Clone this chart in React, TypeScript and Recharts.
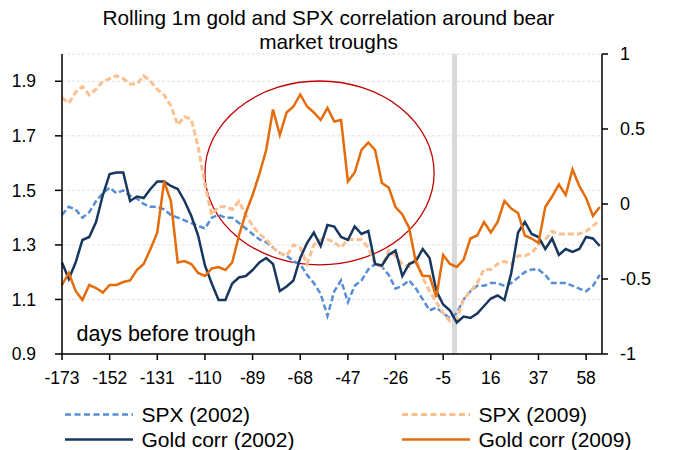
import React from 'react';
import { LineChart, Line, XAxis, YAxis, CartesianGrid, ReferenceLine, ReferenceArea } from 'recharts';

// days relative to the trough, one reading every 3 days
const DAY_START = -173;
const DAY_STEP = 3;

const SPX_2002 = [
  1.41, 1.44, 1.43, 1.40, 1.42, 1.46, 1.49, 1.51, 1.49, 1.50,
  1.48, 1.47, 1.45, 1.44, 1.44, 1.43, 1.41, 1.40, 1.39, 1.38,
  1.37, 1.36, 1.40, 1.41, 1.40, 1.40, 1.38, 1.36, 1.34, 1.32,
  1.31, 1.29, 1.27, 1.26, 1.24, 1.23, 1.19, 1.16, 1.12, 1.04,
  1.13, 1.17, 1.09, 1.15, 1.17, 1.21, 1.23, 1.22, 1.19, 1.14,
  1.15, 1.17, 1.14, 1.10, 1.06, 1.07, 1.05, 1.03, 1.05, 1.10,
  1.13, 1.15, 1.15, 1.16, 1.16, 1.15, 1.16, 1.18, 1.20, 1.21,
  1.21, 1.19, 1.16, 1.16, 1.16, 1.15, 1.14, 1.13, 1.15, 1.19,
];

const SPX_2009 = [
  1.84, 1.82, 1.86, 1.88, 1.85, 1.87, 1.90, 1.91, 1.92, 1.91,
  1.89, 1.89, 1.92, 1.90, 1.87, 1.85, 1.81, 1.74, 1.77, 1.76,
  1.66, 1.52, 1.41, 1.44, 1.44, 1.43, 1.46, 1.41, 1.37, 1.34,
  1.32, 1.29, 1.27, 1.26, 1.30, 1.29, 1.23, 1.30, 1.32, 1.32,
  1.31, 1.29, 1.32, 1.32, 1.32, 1.29, 1.23, 1.22, 1.28, 1.26,
  1.23, 1.22, 1.25, 1.18, 1.13, 1.09, 1.05, 1.02, 1.03, 1.10,
  1.13, 1.16, 1.21, 1.21, 1.23, 1.24, 1.23, 1.26, 1.26, 1.27,
  1.30, 1.32, 1.35, 1.34, 1.34, 1.34, 1.34, 1.35, 1.37, 1.39,
];

const GOLD_CORR_2002 = [
  -0.39, -0.50, -0.39, -0.24, -0.22, -0.12, 0.06, 0.20, 0.21, 0.21,
  0.02, 0.05, 0.04, 0.10, 0.15, 0.15, 0.12, 0.10, 0.02, -0.08,
  -0.21, -0.41, -0.53, -0.64, -0.64, -0.53, -0.49, -0.48, -0.44, -0.39,
  -0.36, -0.40, -0.58, -0.55, -0.51, -0.36, -0.26, -0.19, -0.28, -0.14,
  -0.15, -0.22, -0.24, -0.15, -0.20, -0.18, -0.40, -0.41, -0.34, -0.31,
  -0.48, -0.40, -0.38, -0.30, -0.36, -0.58, -0.67, -0.71, -0.79, -0.75,
  -0.76, -0.73, -0.68, -0.63, -0.61, -0.64, -0.46, -0.19, -0.12, -0.20,
  -0.22, -0.30, -0.23, -0.34, -0.30, -0.32, -0.30, -0.22, -0.23, -0.28,
];

const GOLD_CORR_2009 = [
  -0.54, -0.46, -0.58, -0.64, -0.54, -0.56, -0.59, -0.54, -0.54, -0.52,
  -0.51, -0.44, -0.40, -0.30, -0.19, 0.15, 0.02, -0.39, -0.38, -0.40,
  -0.46, -0.48, -0.43, -0.42, -0.44, -0.39, -0.21, -0.06, 0.06, 0.20,
  0.36, 0.63, 0.46, 0.61, 0.65, 0.73, 0.65, 0.61, 0.56, 0.64,
  0.55, 0.56, 0.15, 0.21, 0.36, 0.41, 0.36, 0.14, 0.11, -0.02,
  -0.07, -0.16, -0.39, -0.48, -0.48, -0.62, -0.34, -0.40, -0.42, -0.37,
  -0.23, -0.21, -0.12, -0.19, -0.12, 0.02, -0.03, -0.06, -0.21, -0.23,
  -0.26, -0.02, 0.05, 0.13, 0.06, 0.23, 0.12, 0.04, -0.08, -0.02,
];

const X_TICKS = [-173, -152, -131, -110, -89, -68, -47, -26, -5, 16, 37, 58];
const LEFT_TICKS = [0.9, 1.1, 1.3, 1.5, 1.7, 1.9];
const RIGHT_TICKS = [-1, -0.5, 0, 0.5, 1];
const TROUGH_DAY = 0;
// circled window, in days and SPX level
const CIRCLE = { x1: -110, x2: -9, y1: 1.227, y2: 1.901 };

const data = SPX_2002.map((v, i) => ({
  day: DAY_START + i * DAY_STEP,
  spx2002: v,
  spx2009: SPX_2009[i],
  gold2002: GOLD_CORR_2002[i],
  gold2009: GOLD_CORR_2009[i],
}));

const FONT = '"Liberation Sans", Arial, sans-serif';

const LEGEND = [
  { name: 'SPX (2002)', color: '#558ed5', dash: '6 3.5', width: 2.5 },
  { name: 'SPX (2009)', color: '#fac090', dash: '6 3.5', width: 3 },
  { name: 'Gold corr (2002)', color: '#17375e', dash: undefined, width: 2.5 },
  { name: 'Gold corr (2009)', color: '#e46c0a', dash: undefined, width: 2.5 },
];

const Ellipse = (p: any) => (
  <ellipse
    cx={p.x + p.width / 2}
    cy={p.y + p.height / 2}
    rx={p.width / 2}
    ry={p.height / 2}
    fill="none"
    stroke="#c00000"
    strokeWidth={1.3}
  />
);

export default function App() {
  const tickStyle = { fill: '#000', fontSize: 18, fontFamily: FONT };
  const axisLine = { stroke: '#000', strokeWidth: 1.5 };

  return (
    <div style={{ position: 'relative', width: 673, height: 450, fontFamily: FONT, background: '#fff' }}>
      <style>{'body{margin:0}'}</style>
      <div style={{ position: 'absolute', left: 0, top: 5.5, width: 657, textAlign: 'center', fontSize: 20.8, lineHeight: '24.5px' }}>
        Rolling 1m gold and SPX correlation around bear
        <br />
        market troughs
      </div>
      <LineChart width={673} height={450} data={data} margin={{ top: 54, right: 0, bottom: 56, left: 0 }}>
        <CartesianGrid yAxisId="left" vertical={false} stroke="#e2e2e2" strokeDasharray="3 2" />
        <XAxis
          type="number"
          dataKey="day"
          domain={[-173, 65]}
          ticks={X_TICKS}
          height={40}
          tick={{ ...tickStyle, fontSize: 17.5 }}
          tickSize={6}
          tickMargin={12}
          axisLine={axisLine}
          tickLine={axisLine}
        />
        <YAxis
          yAxisId="left"
          width={62}
          domain={[0.9, 2]}
          ticks={LEFT_TICKS}
          tick={{ ...tickStyle, fontSize: 17.5 }}
          tickSize={7}
          tickMargin={19}
          axisLine={axisLine}
          tickLine={axisLine}
        />
        <YAxis
          yAxisId="right"
          orientation="right"
          width={71}
          domain={[-1, 1]}
          ticks={RIGHT_TICKS}
          tick={{ ...tickStyle, textAnchor: 'start' }}
          tickSize={6}
          tickMargin={12}
          axisLine={axisLine}
          tickLine={axisLine}
        />
        <ReferenceLine yAxisId="left" x={TROUGH_DAY} stroke="#d9d9d9" strokeWidth={5} />
        <Line yAxisId="left" dataKey="spx2002" stroke="#558ed5" strokeWidth={2.5} strokeDasharray="6 3" dot={false} isAnimationActive={false} />
        <Line yAxisId="left" dataKey="spx2009" stroke="#fac090" strokeWidth={3} strokeDasharray="6 3" dot={false} isAnimationActive={false} />
        <Line yAxisId="right" dataKey="gold2002" stroke="#17375e" strokeWidth={2.5} dot={false} isAnimationActive={false} />
        <Line yAxisId="right" dataKey="gold2009" stroke="#e46c0a" strokeWidth={2.5} dot={false} isAnimationActive={false} />
        <ReferenceArea yAxisId="left" x1={CIRCLE.x1} x2={CIRCLE.x2} y1={CIRCLE.y1} y2={CIRCLE.y2} shape={Ellipse} />
      </LineChart>
      <div style={{ position: 'absolute', left: 76.5, top: 323.5, fontSize: 21.5, lineHeight: '21.5px' }}>days before trough</div>
      <div style={{ position: 'absolute', left: 65, top: 401.5, width: 608, display: 'grid', gridTemplateColumns: '337px 271px', fontSize: 21, lineHeight: '25px' }}>
        {LEGEND.map((item) => (
          <div key={item.name} style={{ display: 'flex', alignItems: 'center', height: 25 }}>
            <svg width={76.5} height={25} style={{ flex: 'none' }}>
              <line x1={0} x2={68} y1={12.5} y2={12.5} stroke={item.color} strokeWidth={item.width} strokeDasharray={item.dash} />
            </svg>
            <span style={{ whiteSpace: 'nowrap' }}>{item.name}</span>
          </div>
        ))}
      </div>
    </div>
  );
}
